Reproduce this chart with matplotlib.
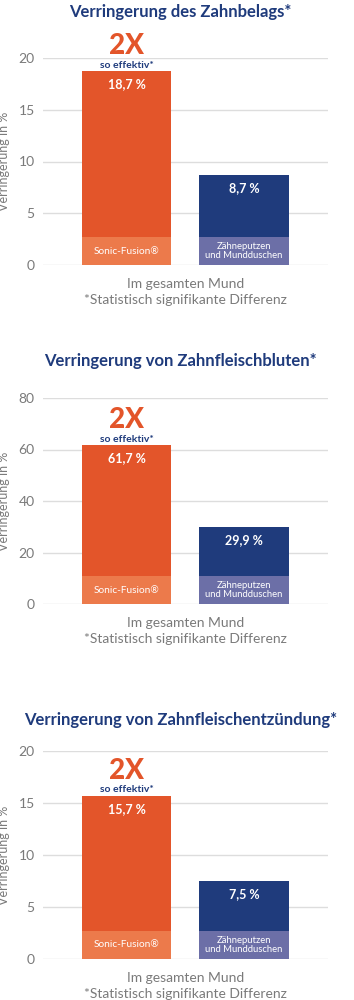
import matplotlib.pyplot as plt

plt.rcParams['font.family'] = ['Lato', 'DejaVu Sans']

# data for the three panels
titles = ["Verringerung des Zahnbelags*",
          "Verringerung von Zahnfleischbluten*",
          "Verringerung von Zahnfleischentzündung*"]
groups = ["Sonic-Fusion®", "Zähneputzen\nund Mundduschen"]
plaque = [18.7, 8.7]
bleeding = [61.7, 29.9]
gingivitis = [15.7, 7.5]
value_labels = [["18,7 %", "8,7 %"], ["61,7 %", "29,9 %"], ["15,7 %", "7,5 %"]]
ymax = [20, 80, 20]
ytick_step = [5, 20, 5]

orange = "#E3552A"
orange_light = "#EC7A4B"
navy = "#1F3B7C"
purple = "#6C6FA7"
grey = "#7A7A7A"

W, H = 354, 1000
fig = plt.figure(figsize=(W / 100, H / 100), dpi=100)

# axes boxes in pixels: (y of 0, y of ymax)
boxes = [(265, 58), (604, 398), (959, 751)]
title_y = [12, 361, 720]
left_px, right_px = 43, 328

for i, vals in enumerate([plaque, bleeding, gingivitis]):
    y0, y1 = boxes[i]
    ax = fig.add_axes([left_px / W, 1 - y0 / H, (right_px - left_px) / W, (y0 - y1) / H])
    x = [0, 1]
    ax.bar(x, vals, width=0.76, color=[orange, navy], zorder=2)
    band = 0.135 * ymax[i]
    ax.bar(x, [band, band], width=0.76, color=[orange_light, purple], zorder=3)
    ax.set_xlim(-0.71, 1.715)
    ax.set_ylim(0, ymax[i])
    ax.set_yticks(range(0, ymax[i] + 1, ytick_step[i]))
    ax.set_xticks([])
    ax.grid(axis='y', color='#DDDDDD', lw=1, zorder=0)
    for s in ax.spines.values():
        s.set_visible(False)
    ax.tick_params(axis='y', length=0, labelsize=10, labelcolor=grey, pad=6)
    ax.set_ylabel("Verringerung in %", fontsize=9, color=grey)
    ax.yaxis.set_label_coords(-0.115, 0.5)

    for j, v in enumerate(vals):
        ax.annotate(value_labels[i][j], (x[j], v), xytext=(0, -13), textcoords='offset pixels',
                    ha='center', va='center', color='white', fontsize=9, fontweight='bold', zorder=4)
        ax.text(x[j], band / 2, groups[j], ha='center', va='center', color='white',
                fontsize=7.3 if j == 0 else 6.8, linespacing=1.05, zorder=4)

    ax.annotate("2X", (0, vals[0]), xytext=(0, 25), textcoords='offset pixels',
                ha='center', va='center', color=orange, fontsize=20, fontweight='black')
    ax.annotate("so effektiv*", (0, vals[0]), xytext=(0, 6), textcoords='offset pixels',
                ha='center', va='center', color=navy, fontsize=7.5, fontweight='bold')

    ax.text(0.5, -19 / (y0 - y1), "Im gesamten Mund", transform=ax.transAxes,
            ha='center', va='center', color=grey, fontsize=10)
    ax.text(0.5, -35 / (y0 - y1), "*Statistisch signifikante Differenz", transform=ax.transAxes,
            ha='center', va='center', color=grey, fontsize=10)

    fig.text(0.51, 1 - title_y[i] / H, titles[i], ha='center', va='center',
             color=navy, fontsize=12, fontweight='bold')

fig.savefig("out.png", dpi=100)
